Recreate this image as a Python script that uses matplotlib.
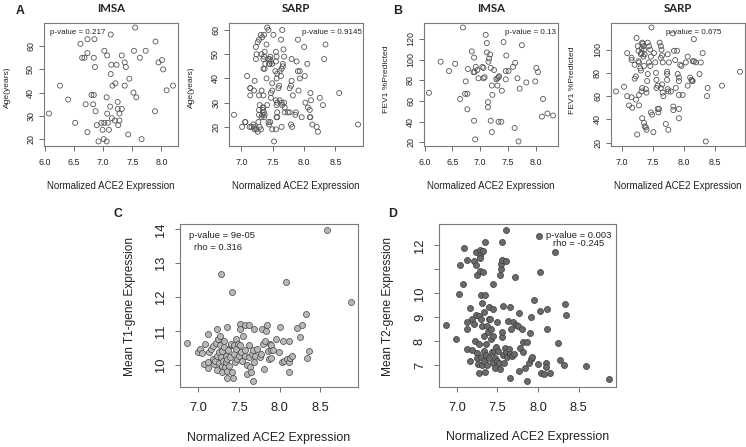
import numpy as np
import matplotlib
matplotlib.use('Agg')
import matplotlib.pyplot as plt

plt.rcParams['font.family'] = ['Liberation Sans', 'DejaVu Sans']

W, H = 746, 447

# IMSA: ACE2 expression vs age
imsa_age_x = [6.07, 6.26, 6.40, 6.52, 6.61, 6.73, 6.85, 6.73, 6.64, 6.68,
              6.84, 6.86, 6.80, 6.84, 6.83, 6.70, 6.87, 6.73, 6.89, 6.97,
              6.92, 7.01, 7.06, 7.02, 7.08, 7.10, 6.99, 7.07, 7.06, 7.13,
              7.02, 7.07, 7.14, 7.13, 7.16, 7.21, 7.23, 7.12, 7.15, 7.20,
              7.25, 7.25, 7.26, 7.28, 7.28, 7.32, 7.32, 7.37, 7.39, 7.37,
              7.45, 7.43, 7.52, 7.57, 7.55, 7.53, 7.63, 7.73, 7.66, 7.90,
              7.95, 8.01, 8.03, 7.89, 8.09, 8.20]
imsa_age_y = [31, 43, 37, 27, 61, 63, 63, 57, 55, 55,
              55, 51, 39, 39, 35, 35, 32, 23, 26, 27,
              19, 20, 19, 27, 27, 24, 24, 31, 38, 65,
              58, 56, 52, 48, 43, 44, 52, 34, 29, 28,
              36, 33, 26, 28, 31, 33, 56, 53, 51, 43,
              46, 22, 40, 38, 68, 58, 55, 58, 20, 62,
              53, 54, 50, 32, 41, 43]

# SARP: ACE2 expression vs age
sarp_age_x = [6.88, 7.06, 7.06, 7.01, 7.09, 7.13, 7.14, 7.14, 7.14, 7.16,
              7.19, 7.20, 7.21, 7.20, 7.21, 7.23, 7.23, 7.24, 7.26, 7.28,
              7.24, 7.26, 7.27, 7.28, 7.28, 7.29, 7.28, 7.29, 7.31, 7.32,
              7.33, 7.34, 7.35, 7.34, 7.36, 7.36, 7.37, 7.31, 7.33, 7.36,
              7.32, 7.35, 7.37, 7.36, 7.35, 7.38, 7.37, 7.40, 7.32, 7.35,
              7.41, 7.43, 7.44, 7.46, 7.43, 7.45, 7.46, 7.44, 7.45, 7.47,
              7.49, 7.41, 7.43, 7.40, 7.51, 7.49, 7.47, 7.49, 7.47, 7.49,
              7.52, 7.55, 7.56, 7.57, 7.57, 7.56, 7.57, 7.55, 7.55, 7.56,
              7.55, 7.54, 7.56, 7.57, 7.59, 7.60, 7.63, 7.65, 7.61, 7.63,
              7.64, 7.66, 7.66, 7.67, 7.68, 7.61, 7.64, 7.65, 7.68, 7.69,
              7.64, 7.69, 7.74, 7.77, 7.79, 7.80, 7.77, 7.80, 7.79, 7.81,
              7.82, 7.86, 7.87, 7.88, 7.90, 7.90, 7.93, 7.91, 7.93, 7.96,
              8.00, 8.01, 8.02, 8.05, 8.06, 8.09, 8.09, 8.10, 8.10, 8.11,
              8.13, 8.20, 8.22, 8.25, 8.30, 8.32, 8.34, 8.56, 8.86]
sarp_age_y = [25, 22, 22, 20, 41, 20, 36, 36, 33, 20,
              21, 20, 19, 35, 39, 48, 53, 50, 55, 56,
              19, 18, 22, 25, 27, 29, 33, 20, 19, 24,
              25, 27, 28, 28, 26, 24, 25, 58, 57, 58,
              50, 48, 51, 49, 44, 46, 44, 40, 35, 33,
              29, 22, 21, 22, 48, 48, 49, 46, 46, 47,
              46, 61, 60, 54, 58, 35, 34, 38, 32, 19,
              14, 31, 29, 30, 26, 24, 24, 19, 51, 49,
              47, 43, 40, 42, 36, 37, 56, 60, 43, 41,
              44, 45, 46, 52, 49, 31, 30, 29, 30, 28,
              20, 26, 26, 26, 37, 39, 36, 48, 21, 20,
              33, 25, 26, 47, 56, 43, 43, 35, 40, 24,
              53, 41, 30, 46, 28, 27, 24, 24, 34, 31,
              21, 20, 18, 32, 29, 48, 54, 34, 21]

# IMSA: ACE2 expression vs FEV1 % predicted
imsa_fev_x = [6.08, 6.29, 6.44, 6.55, 6.69, 6.64, 6.73, 6.77, 6.74, 6.78,
              6.77, 6.85, 6.89, 6.88, 6.90, 6.92, 6.95, 6.97, 6.89, 6.91,
              7.04, 7.06, 7.08, 7.06, 7.10, 7.12, 7.12, 7.18, 7.16, 7.15,
              7.19, 7.21, 7.22, 7.14, 7.14, 7.25, 7.29, 7.31, 7.33, 7.34,
              7.31, 7.19, 7.21, 7.33, 7.38, 7.42, 7.47, 7.46, 7.51, 7.46,
              7.39, 7.63, 7.59, 7.67, 7.62, 7.69, 7.75, 7.71, 7.83, 7.99,
              8.01, 8.04, 8.13, 8.11, 8.21, 8.31]
imsa_fev_y = [68, 98, 89, 96, 131, 62, 67, 67, 79, 91,
              52, 108, 102, 88, 88, 93, 90, 82, 41, 23,
              93, 92, 83, 82, 124, 116, 107, 105, 101, 98,
              92, 75, 66, 59, 54, 90, 81, 82, 83, 84,
              75, 41, 30, 40, 40, 117, 104, 89, 89, 81,
              70, 97, 93, 82, 34, 21, 114, 72, 78, 79,
              92, 88, 62, 45, 48, 46]

# SARP: ACE2 expression vs FEV1 % predicted
sarp_fev_x = [6.91, 7.04, 7.09, 7.09, 7.12, 7.16, 7.16, 7.16, 7.17, 7.21,
              7.21, 7.23, 7.23, 7.24, 7.25, 7.26, 7.27, 7.27, 7.28, 7.28,
              7.28, 7.30, 7.31, 7.31, 7.32, 7.32, 7.33, 7.34, 7.35, 7.36,
              7.35, 7.37, 7.36, 7.33, 7.32, 7.33, 7.36, 7.37, 7.39, 7.40,
              7.39, 7.40, 7.41, 7.42, 7.42, 7.44, 7.46, 7.47, 7.44, 7.46,
              7.48, 7.47, 7.49, 7.51, 7.52, 7.54, 7.55, 7.56, 7.58, 7.56,
              7.58, 7.59, 7.60, 7.61, 7.63, 7.64, 7.65, 7.63, 7.66, 7.65,
              7.63, 7.66, 7.67, 7.71, 7.75, 7.74, 7.73, 7.73, 7.73, 7.74,
              7.75, 7.76, 7.79, 7.82, 7.83, 7.83, 7.84, 7.86, 7.89, 7.87,
              7.90, 7.92, 7.92, 7.92, 7.92, 7.92, 7.94, 7.96, 7.98, 8.03,
              8.06, 8.06, 8.10, 8.12, 8.13, 8.14, 8.14, 8.16, 8.16, 8.19,
              8.25, 8.27, 8.30, 8.35, 8.37, 8.38, 8.61, 8.90]
sarp_fev_y = [64, 68, 97, 60, 52, 93, 91, 59, 50, 87,
              75, 77, 57, 110, 27, 103, 99, 90, 52, 61,
              89, 84, 82, 96, 97, 101, 106, 105, 103, 100,
              94, 96, 86, 67, 64, 41, 37, 34, 33, 31,
              66, 63, 73, 79, 106, 103, 100, 94, 89, 86,
              119, 46, 44, 29, 97, 89, 80, 74, 69, 67,
              49, 46, 49, 106, 103, 100, 95, 93, 89, 70,
              67, 63, 60, 36, 31, 96, 81, 79, 74, 66,
              64, 89, 64, 114, 51, 48, 99, 91, 99, 67,
              79, 76, 73, 61, 49, 41, 87, 86, 61, 89,
              94, 69, 76, 74, 73, 73, 90, 90, 109, 89,
              79, 89, 97, 21, 60, 67, 69, 81]

# ACE2 vs mean T1-gene expression
t1_x = [6.86, 7.00, 7.03, 7.05, 7.07, 7.12, 7.12, 7.12, 7.09, 7.14,
        7.16, 7.18, 7.18, 7.19, 7.21, 7.22, 7.23, 7.23, 7.23, 7.25,
        7.26, 7.26, 7.27, 7.27, 7.28, 7.28, 7.29, 7.30, 7.30, 7.31,
        7.32, 7.32, 7.33, 7.34, 7.34, 7.35, 7.36, 7.36, 7.37, 7.36,
        7.38, 7.39, 7.40, 7.41, 7.42, 7.42, 7.43, 7.44, 7.44, 7.45,
        7.46, 7.47, 7.48, 7.49, 7.50, 7.51, 7.51, 7.52, 7.53, 7.54,
        7.55, 7.57, 7.58, 7.58, 7.60, 7.60, 7.62, 7.62, 7.63, 7.64,
        7.65, 7.66, 7.67, 7.67, 7.69, 7.69, 7.70, 7.72, 7.76, 7.77,
        7.79, 7.80, 7.81, 7.82, 7.83, 7.84, 7.86, 7.87, 7.88, 7.89,
        7.90, 7.90, 7.92, 7.95, 7.99, 8.01, 8.03, 8.04, 8.05, 8.08,
        8.09, 8.11, 8.12, 8.12, 8.13, 8.15, 8.21, 8.25, 8.27, 8.32,
        8.34, 8.36, 8.58, 8.88]
t1_y = [10.65, 10.38, 10.48, 10.35, 10.03, 10.08, 9.90, 10.91, 10.63, 10.38,
        10.48, 10.56, 10.18, 10.03, 10.13, 10.66, 11.07, 9.85, 10.28, 10.77,
        10.06, 10.38, 10.58, 10.87, 12.68, 10.23, 9.98, 10.40, 9.80, 10.13,
        10.72, 10.53, 9.93, 10.28, 10.08, 9.83, 11.12, 10.18, 10.43, 9.63,
        9.98, 10.23, 10.58, 10.63, 12.16, 9.78, 9.63, 10.58, 10.33, 10.08,
        10.77, 10.48, 10.18, 10.63, 10.28, 11.22, 11.07, 10.58, 10.38, 10.13,
        10.87, 10.43, 11.17, 10.28, 10.00, 9.73, 11.19, 10.58, 10.23, 9.93,
        9.78, 10.33, 9.53, 10.43, 10.08, 11.07, 10.26, 10.48, 10.23, 10.33,
        11.07, 10.63, 9.88, 10.72, 11.00, 11.17, 10.40, 10.18, 10.63, 10.43,
        10.58, 10.20, 10.45, 10.77, 10.38, 11.12, 10.08, 10.72, 10.13, 12.46,
        10.18, 10.08, 10.72, 9.80, 10.20, 10.26, 11.09, 10.82, 11.17, 11.50,
        10.21, 10.40, 13.98, 11.87]

# ACE2 vs mean T2-gene expression
t2_x = [6.86, 6.99, 7.03, 7.04, 7.07, 7.09, 7.12, 7.12, 7.12, 7.13,
        7.16, 7.16, 7.18, 7.19, 7.21, 7.21, 7.22, 7.23, 7.23, 7.24,
        7.25, 7.25, 7.25, 7.26, 7.27, 7.27, 7.27, 7.28, 7.28, 7.29,
        7.29, 7.30, 7.30, 7.30, 7.31, 7.31, 7.31, 7.32, 7.32, 7.33,
        7.33, 7.33, 7.34, 7.35, 7.35, 7.35, 7.36, 7.36, 7.37, 7.37,
        7.38, 7.39, 7.40, 7.40, 7.41, 7.42, 7.42, 7.43, 7.44, 7.45,
        7.45, 7.45, 7.46, 7.47, 7.47, 7.48, 7.49, 7.49, 7.51, 7.52,
        7.53, 7.53, 7.54, 7.54, 7.55, 7.56, 7.56, 7.56, 7.57, 7.57,
        7.58, 7.59, 7.60, 7.60, 7.61, 7.62, 7.63, 7.64, 7.65, 7.66,
        7.66, 7.67, 7.68, 7.69, 7.70, 7.71, 7.73, 7.75, 7.77, 7.77,
        7.78, 7.80, 7.81, 7.82, 7.84, 7.86, 7.87, 7.89, 7.90, 7.91,
        7.91, 7.92, 7.95, 8.00, 8.01, 8.03, 8.03, 8.04, 8.07, 8.10,
        8.10, 8.11, 8.11, 8.15, 8.21, 8.25, 8.27, 8.32, 8.33, 8.35,
        8.59, 8.88]
t2_y = [8.68, 8.09, 9.95, 11.20, 10.37, 11.87, 7.67, 8.82, 8.51, 11.38,
        7.18, 9.38, 8.93, 7.63, 8.72, 11.34, 8.02, 11.73, 11.17, 9.10,
        10.75, 7.50, 7.29, 7.04, 6.69, 9.07, 7.88, 11.80, 11.59, 11.48,
        10.92, 9.91, 8.93, 7.36, 7.00, 9.59, 8.65, 11.77, 10.89, 9.21,
        8.23, 7.60, 7.18, 6.72, 12.15, 9.94, 7.88, 7.42, 7.00, 8.65,
        8.37, 8.93, 7.28, 9.42, 8.93, 8.51, 8.09, 7.53, 7.11, 10.40,
        9.35, 8.23, 7.60, 7.28, 6.90, 7.74, 8.79, 7.18, 7.60, 7.11,
        6.83, 10.78, 11.03, 11.24, 12.12, 11.38, 8.16, 8.37, 9.49, 7.42,
        7.11, 7.70, 12.64, 11.34, 7.56, 7.32, 8.86, 7.67, 9.42, 6.48,
        7.46, 8.51, 7.39, 8.79, 7.46, 10.68, 8.68, 8.65, 6.76, 9.18,
        7.70, 8.51, 7.53, 7.95, 6.90, 6.34, 7.98, 7.11, 8.33, 9.00,
        7.25, 7.36, 9.74, 7.04, 12.40, 9.28, 10.89, 6.69, 6.62, 7.11,
        6.94, 9.35, 8.51, 6.66, 11.73, 7.92, 7.22, 7.00, 9.56, 9.11,
        6.97, 6.44]

EDGE = '#555555'
TXT = '#222222'

fig = plt.figure(figsize=(W / 100, H / 100), dpi=100)


def px_text(x, y, s, size, **kw):
    # place text using pixel coordinates measured from the top-left corner
    fig.text(x / W, 1 - y / H, s, fontsize=size, color=TXT, **kw)


def r_limits(v):
    # R style axis range: data range plus 4% on each side
    v = np.asarray(v, dtype=float)
    d = (v.max() - v.min()) * 0.04
    return v.min() - d, v.max() + d


def make_panel(box, x, y, xticks, yticks, tick_size, xpad, ypad, style,
               ylabels=None):
    l, t, r, b = box
    ax = fig.add_axes([l / W, 1 - b / H, (r - l) / W, (b - t) / H])
    ax.scatter(x, y, **style)
    ax.set_xlim(*r_limits(x))
    ax.set_ylim(*r_limits(y))
    ax.set_xticks(xticks)
    ax.set_yticks(yticks)
    ax.set_xticklabels(['%.1f' % v for v in xticks])
    if ylabels is None:
        ylabels = ['%d' % v for v in yticks]
    ax.set_yticklabels(ylabels)
    ax.tick_params(direction='out', length=3.6, width=0.6, color=EDGE,
                   labelsize=tick_size, labelcolor=TXT)
    ax.tick_params(axis='x', pad=xpad)
    ax.tick_params(axis='y', pad=ypad, labelrotation=90)
    for lab in ax.get_yticklabels():
        lab.set_va('center')
    for sp in ax.spines.values():
        sp.set_color('#7a7a7a')
        sp.set_linewidth(0.8)
    return ax


open_style = dict(s=13, facecolors='none', edgecolors='#555555', linewidths=0.6)
light_style = dict(s=19, c='#b8b8b8', edgecolors='#444444', linewidths=0.5)
dark_style = dict(s=19, c='#6a6a6a', edgecolors='#3a3a3a', linewidths=0.5)

top_tick = 6.4
bot_tick = 9.3

make_panel((44, 23, 178, 146), imsa_age_x, imsa_age_y,
           [6.0, 6.5, 7.0, 7.5, 8.0], [20, 30, 40, 50, 60],
           top_tick, 5.1, 2.8, open_style)
make_panel((229, 23, 363, 146), sarp_age_x, sarp_age_y,
           [7.0, 7.5, 8.0, 8.5], [20, 30, 40, 50, 60],
           top_tick, 5.1, 2.8, open_style)
make_panel((424, 23, 558, 146), imsa_fev_x, imsa_fev_y,
           [6.0, 6.5, 7.0, 7.5, 8.0], [20, 40, 60, 80, 100, 120],
           top_tick, 5.1, 2.8, open_style)
make_panel((611, 23, 745, 146), sarp_fev_x, sarp_fev_y,
           [7.0, 7.5, 8.0, 8.5], [20, 40, 60, 80, 100],
           top_tick, 5.1, 2.8, open_style)
make_panel((180, 224, 358, 387), t1_x, t1_y,
           [7.0, 7.5, 8.0, 8.5], [10, 11, 12, 13, 14],
           bot_tick, 7.3, 5.8, light_style)
make_panel((439, 224, 616, 387), t2_x, t2_y,
           [7.0, 7.5, 8.0, 8.5], [7, 8, 9, 10, 11, 12],
           bot_tick, 7.3, 5.8, dark_style,
           ylabels=['7', '8', '9', '10', '', '12'])

# axis titles
xlab = 'Normalized ACE2 Expression'
for cx in (111, 296, 491, 678):
    px_text(cx, 186, xlab, 7.0, ha='center', va='center')
px_text(269, 438, xlab, 8.9, ha='center', va='center')
px_text(528, 437, xlab, 8.9, ha='center', va='center')

px_text(7, 87, 'Age(years)', 6.1, ha='center', va='center', rotation=90)
px_text(191, 87, 'Age(years)', 6.1, ha='center', va='center', rotation=90)
px_text(387, 79, 'FEV1 %Predicted', 6.1, ha='center', va='center', rotation=90)
px_text(572, 80, 'FEV1 %Predicted', 6.1, ha='center', va='center', rotation=90)
px_text(130, 307, 'Mean T1-gene Expression', 8.6, ha='center', va='center', rotation=90)
px_text(388, 306, 'Mean T2-gene Expression', 8.6, ha='center', va='center', rotation=90)

# panel titles
for cx, name in ((111, 'IMSA'), (296, 'SARP'), (491, 'IMSA'), (678, 'SARP')):
    fig.text(cx / W, 1 - 8 / H, name, fontsize=8.2, fontweight='bold',
             family='Lato', color=TXT, ha='center', va='center')

# panel letters
for cx, cy, letter in ((20, 11, 'A'), (398, 11, 'B'), (118, 214, 'C'), (393, 214, 'D')):
    px_text(cx, cy, letter, 8.8, ha='center', va='center', fontweight='bold')

# p-values
px_text(50, 32, 'p-value = 0.217', 5.8, ha='left', va='center')
px_text(362, 32, 'p-value = 0.9145', 5.8, ha='right', va='center')
px_text(556, 33, 'p-value = 0.13', 5.8, ha='right', va='center')
px_text(721, 32, 'p-value = 0.675', 5.8, ha='right', va='center')
px_text(189, 236, 'p-value = 9e-05', 6.8, ha='left', va='center')
px_text(194, 247, 'rho = 0.316', 6.8, ha='left', va='center')
px_text(546, 235, 'p-value = 0.003', 6.8, ha='left', va='center')
px_text(553, 244, 'rho = -0.245', 6.8, ha='left', va='center')

fig.savefig('out.png', dpi=100)
